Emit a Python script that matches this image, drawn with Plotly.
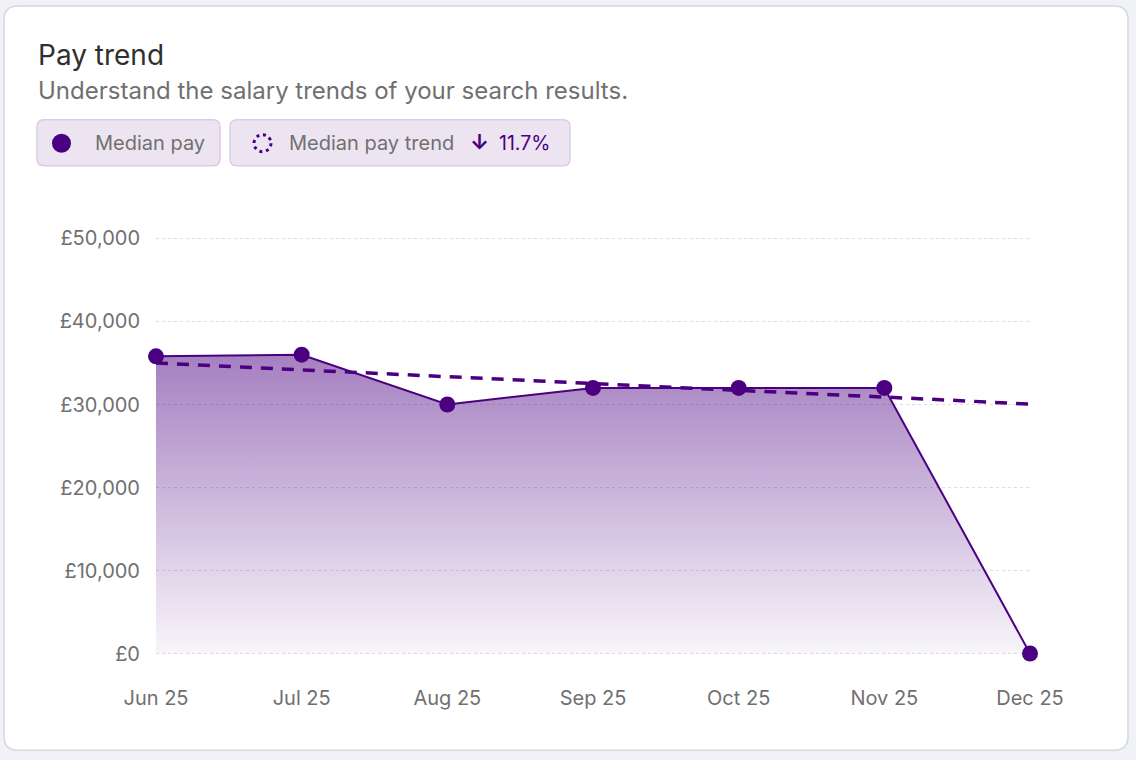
import plotly.graph_objects as go

months = ["Jun 25", "Jul 25", "Aug 25", "Sep 25", "Oct 25", "Nov 25", "Dec 25"]
median_pay = [35800, 36000, 30000, 32000, 32000, 32000, 0]
trend_pay = [35000, 34150, 33300, 32500, 31700, 30900, 30050]
y_ticks = [0, 10000, 20000, 30000, 40000, 50000]
y_tick_labels = ["£0", "£10,000", "£20,000", "£30,000", "£40,000", "£50,000"]
trend_change = "11.7%"

W, H = 1136, 760
Y_LO, Y_HI = -300, 50300
# plot area so that 0 -> y=654px and 50000 -> y=238px
SCALE = 416 / 50000
L, R = 156, 106
T = 238 - (Y_HI - 50000) * SCALE
B = (H - 654) - (0 - Y_LO) * SCALE
PW, PH = W - L - R, H - T - B

PURPLE = "#4B0082"


def px(x):
    return (x - L) / PW


def py(y):
    return (H - B - y) / PH


def rrect(x0, y0, x1, y1, r):
    pts = [
        f"M {px(x0 + r)},{py(y0)}",
        f"L {px(x1 - r)},{py(y0)}",
        f"Q {px(x1)},{py(y0)} {px(x1)},{py(y0 + r)}",
        f"L {px(x1)},{py(y1 - r)}",
        f"Q {px(x1)},{py(y1)} {px(x1 - r)},{py(y1)}",
        f"L {px(x0 + r)},{py(y1)}",
        f"Q {px(x0)},{py(y1)} {px(x0)},{py(y1 - r)}",
        f"L {px(x0)},{py(y0 + r)}",
        f"Q {px(x0)},{py(y0)} {px(x0 + r)},{py(y0)}",
        "Z",
    ]
    return " ".join(pts)


fig = go.Figure()

fig.add_trace(go.Scatter(
    x=months, y=median_pay, mode="lines",
    line=dict(color=PURPLE, width=2),
    fill="tozeroy",
    fillgradient=dict(
        type="vertical",
        start=0, stop=36000,
        colorscale=[[0, "rgba(75,0,130,0.04)"], [1, "rgba(75,0,130,0.5)"]],
    ),
    cliponaxis=False, showlegend=False, hoverinfo="skip",
))

fig.add_trace(go.Scatter(
    x=months, y=trend_pay, mode="lines",
    line=dict(color=PURPLE, width=3.5, dash="12px,9px"),
    cliponaxis=False, showlegend=False, hoverinfo="skip",
))

fig.add_trace(go.Scatter(
    x=months, y=median_pay, mode="markers",
    marker=dict(color=PURPLE, size=16),
    cliponaxis=False, showlegend=False,
))

shapes = [
    dict(type="path", xref="paper", yref="paper", path=rrect(4, 5, 1128, 751, 14),
         fillcolor="white", line=dict(color="#d3d7df", width=1.5), layer="below"),
    dict(type="path", xref="paper", yref="paper", path=rrect(37, 119, 220, 165, 7),
         fillcolor="#ede4f2", line=dict(color="#dccbe8", width=1.5), layer="below"),
    dict(type="path", xref="paper", yref="paper", path=rrect(230, 119, 570, 165, 7),
         fillcolor="#ede4f2", line=dict(color="#dccbe8", width=1.5), layer="below"),
    dict(type="circle", xref="paper", yref="paper",
         x0=px(52), x1=px(71), y0=py(133), y1=py(152),
         fillcolor=PURPLE, line=dict(width=0)),
    dict(type="circle", xref="paper", yref="paper",
         x0=px(254), x1=px(271), y0=py(134), y1=py(151),
         fillcolor="rgba(0,0,0,0)", line=dict(color=PURPLE, width=3, dash="3px,3.7px")),
]

FONT = "Inter, 'Noto Sans', sans-serif"
ann = [
    dict(x=px(36), y=py(54), text="Pay trend", font=dict(size=28, color="#2f2f2f")),
    dict(x=px(36), y=py(90), text="Understand the salary trends of your search results.",
         font=dict(size=24, color="#707070")),
    dict(x=px(93), y=py(142), text="Median pay", font=dict(size=20, color="#707070")),
    dict(x=px(287), y=py(142), text="Median pay trend", font=dict(size=20, color="#707070")),
    dict(x=px(468), y=py(142), text="<b>↓</b>", font=dict(size=21, color=PURPLE)),
    dict(x=px(497), y=py(142), text=trend_change, font=dict(size=19.5, color=PURPLE)),
]
annotations = []
for a in ann:
    a.update(xref="paper", yref="paper", xanchor="left", yanchor="middle", showarrow=False)
    a["font"]["family"] = FONT
    annotations.append(a)

fig.update_layout(
    width=W, height=H,
    margin=dict(l=L, r=R, t=T, b=B, autoexpand=False),
    paper_bgcolor="#f1f2f6", plot_bgcolor="rgba(0,0,0,0)",
    font=dict(family=FONT, color="#707070", size=20),
    shapes=shapes, annotations=annotations,
    showlegend=False,
    xaxis=dict(type="category", range=[0, 6], showgrid=False, zeroline=False,
               showline=False, ticks="", ticklabelstandoff=28,
               tickfont=dict(size=20, color="#707070")),
    yaxis=dict(range=[Y_LO, Y_HI], tickvals=y_ticks, ticktext=y_tick_labels,
               showgrid=True, gridcolor="#dcdde3", griddash="3px,3px", gridwidth=1,
               zeroline=False, showline=False, ticks="", ticklabelstandoff=15,
               tickfont=dict(size=20, color="#707070")),
)

fig.write_html(
    "out.html",
    config={"displayModeBar": False},
    post_script="document.body.style.margin='0';document.body.style.background='#f1f2f6';"
                "document.documentElement.style.overflow='hidden';",
)
